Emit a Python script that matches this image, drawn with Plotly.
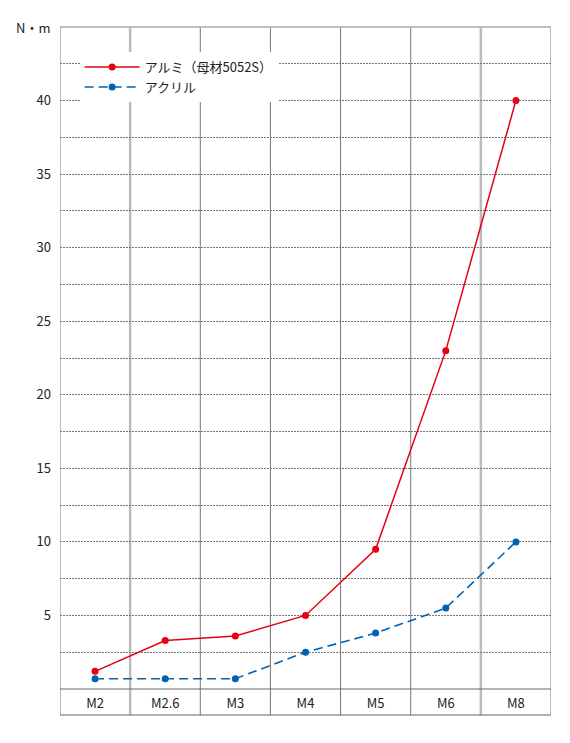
import plotly.graph_objects as go

categories = ["M2", "M2.6", "M3", "M4", "M5", "M6", "M8"]
aluminium = [1.2, 3.3, 3.6, 5.0, 9.5, 23.0, 40.0]
acrylic = [0.7, 0.7, 0.7, 2.5, 3.8, 5.5, 10.0]
y_ticks = [5, 10, 15, 20, 25, 30, 35, 40]
name_al = "アルミ（母材5052S）"
name_ac = "アクリル"
unit_label = "N・m"

FONT = "Noto Sans CJK JP, Noto Sans, sans-serif"
xs = list(range(len(categories)))

fig = go.Figure()
fig.add_trace(go.Scatter(x=xs, y=aluminium, name=name_al, mode="lines+markers",
                         line=dict(color="#e60012", width=1.5),
                         marker=dict(color="#e60012", size=7)))
fig.add_trace(go.Scatter(x=xs, y=acrylic, name=name_ac, mode="lines+markers",
                         line=dict(color="#0062b4", width=1.6, dash="9px,5px"),
                         marker=dict(color="#0062b4", size=7)))

row_h = 26 / 662.0
shapes = []
shapes.append(dict(type="line", xref="paper", yref="paper", x0=0, x1=1, y0=-row_h, y1=-row_h,
                   line=dict(color="#666", width=1)))
shapes.append(dict(type="line", xref="paper", yref="paper", x0=0, x1=1, y0=0, y1=0,
                   line=dict(color="#666", width=1)))
shapes.append(dict(type="line", xref="paper", yref="paper", x0=0, x1=1, y0=1, y1=1,
                   line=dict(color="#aaa", width=1.5)))
for i in range(len(categories) + 1):
    xv = i - 0.5
    light = i in (1, 6)
    shapes.append(dict(type="line", xref="x", yref="paper", x0=xv, x1=xv, y0=-row_h, y1=1,
                       line=dict(color="#bbb" if light else "#777", width=2.5 if light else 1),
                       layer="below"))

fig.update_layout(
    width=570, height=743,
    margin=dict(l=60, r=19, t=27, b=54),
    paper_bgcolor="white", plot_bgcolor="white",
    font=dict(family=FONT, size=13, color="#222"),
    showlegend=True,
    legend=dict(x=0.04, y=0.962, xanchor="left", yanchor="top", bgcolor="white",
                font=dict(size=13, color="#222"), tracegroupgap=0, itemwidth=55,
                traceorder="normal"),
    shapes=shapes,
    annotations=[dict(text=unit_label, xref="paper", yref="paper", x=-0.016, y=1.0,
                      xanchor="right", yanchor="middle", showarrow=False,
                      font=dict(size=13, color="#222"))],
)
fig.update_xaxes(range=[-0.5, len(categories) - 0.5], tickvals=xs, ticktext=categories,
                 showgrid=False, zeroline=False, showline=False, ticks="",
                 ticklabelstandoff=5, tickfont=dict(size=13))
fig.update_yaxes(range=[0, 45], tickvals=y_ticks, showgrid=True, gridcolor="#777",
                 griddash="2px,1px", gridwidth=1, zeroline=False, showline=False, ticks="",
                 ticklabelstandoff=8, tickfont=dict(size=13),
                 minor=dict(dtick=2.5, showgrid=True, gridcolor="#777", griddash="2px,1px",
                            gridwidth=1, ticks=""))
fig.write_html("out.html")
